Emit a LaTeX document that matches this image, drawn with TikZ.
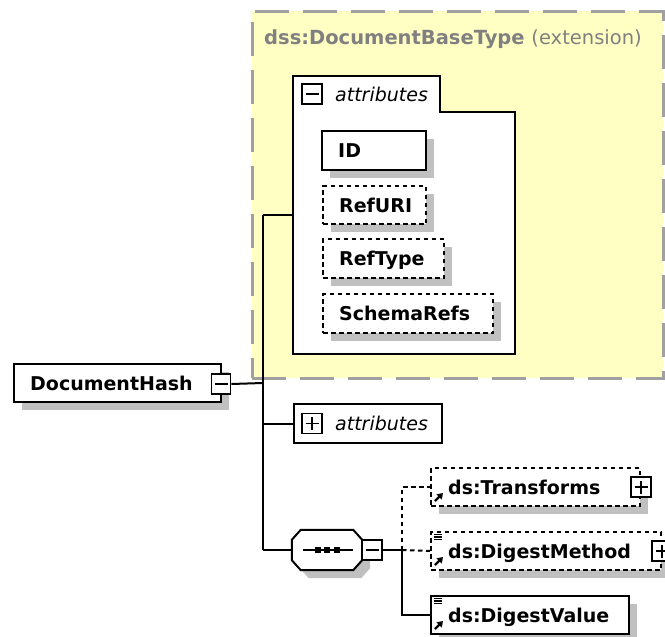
\documentclass[tikz,border=0pt]{standalone}
\usepackage{fontspec}
\setmainfont{DejaVu Sans}
\usetikzlibrary{calc,shadows,arrows.meta}
\definecolor{extfill}{HTML}{FFFFC4}
\definecolor{extline}{HTML}{A0A0A0}
\definecolor{shgray}{HTML}{C0C0C0}
\definecolor{titlegray}{HTML}{808080}
\tikzset{
  conn/.style={line width=2pt},
  optconn/.style={conn, dash pattern=on 4.5pt off 3.5pt},
  shad/.style={drop shadow={shadow xshift=8pt, shadow yshift=-8pt, fill=shgray, opacity=1, draw=none}},
  plainbox/.style={draw, line width=2pt, fill=white, inner sep=0pt, anchor=north west},
  elem/.style={plainbox, shad},
  optelem/.style={elem, dash pattern=on 4.5pt off 3.5pt},
  lbl/.style={font=\fontsize{19}{22}\selectfont\bfseries, inner sep=0pt, anchor=base west},
  ital/.style={font=\fontsize{19}{22}\selectfont\itshape, inner sep=0pt, anchor=base west},
  tog/.style={draw, line width=1.8pt, fill=white, minimum width=20pt, minimum height=20pt, inner sep=0pt},
  sign/.style={line width=1.8pt},
  refarrow/.style={line width=2.4pt, -{Triangle[length=5.5pt,width=7pt]}},
  simple/.style={line width=1.2pt},
}
\begin{document}
\begin{tikzpicture}[x=1pt, y=-1pt]
\useasboundingbox (0,0) rectangle (665,637);
\clip (0,0) rectangle (665,637);

% extension area of the base type
\node[draw=extline, fill=extfill, line width=2.8pt, dash pattern=on 34pt off 14pt,
      inner sep=0pt, anchor=north west, minimum width=411pt, minimum height=367pt] (ext) at (251,10) {};
\node[inner sep=0pt, anchor=base west, text=titlegray, font=\fontsize{19.5}{22}\selectfont] (extt) at (264,45)
  {\bfseries dss:DocumentBaseType \mdseries(extension)};

% attribute group of the base type
\node[inner sep=0pt, anchor=north west, minimum width=222pt, minimum height=278pt] (attrs) at (293,76) {};
\draw[conn, fill=white] (attrs.north west) -- ($(attrs.north west)+(147,0)$) -- ($(attrs.north west)+(147,36)$)
  -- ($(attrs.north east)+(0,36)$) -- (attrs.south east) -- (attrs.south west) -- cycle;
\node[tog] (attrsm) at ($(attrs.north west)+(19,18)$) {};
\draw[sign] ($(attrsm.center)+(-6.5,0)$) -- ($(attrsm.center)+(6.5,0)$);
\node[ital] (attrst) at ($(attrs.north west)+(42,25)$) {attributes};

\node[elem, minimum width=104pt, minimum height=39pt] (id) at (321,130) {};
\node[lbl] (idt) at ($(id.west)+(17,7)$) {ID};
\node[optelem, minimum width=103pt, minimum height=38pt] (ruri) at (322,185) {};
\node[lbl] (rurit) at ($(ruri.west)+(17,7)$) {RefURI};
\node[optelem, minimum width=121pt, minimum height=39pt] (rtype) at (322,238) {};
\node[lbl] (rtypet) at ($(rtype.west)+(17,7)$) {RefType};
\node[optelem, minimum width=170pt, minimum height=39pt] (srefs) at (322,293) {};
\node[lbl] (srefst) at ($(srefs.west)+(17,7)$) {SchemaRefs};

% root element
\node[elem, minimum width=207pt, minimum height=38pt] (dh) at (13,363) {};
\node[lbl] (dht) at ($(dh.west)+(17,7)$) {DocumentHash};
\node[tog, minimum width=19pt] (dhm) at ($(dh.east)+(-1,1)$) {};
\draw[sign] ($(dhm.center)+(-6.5,0)$) -- ($(dhm.center)+(6.5,0)$);
\coordinate (trunk) at (263,383);

% collapsed attributes
\node[plainbox, minimum width=148pt, minimum height=39pt] (attrb) at (293,403) {};
\node[tog] (attrbp) at ($(attrb.west)+(19,0)$) {};
\draw[sign] ($(attrbp.center)+(-6.5,0)$) -- ($(attrbp.center)+(6.5,0)$);
\draw[sign] ($(attrbp.center)+(0,-6.5)$) -- ($(attrbp.center)+(0,6.5)$);
\node[ital] (attrbt) at ($(attrb.west)+(42,7)$) {attributes};

% sequence compositor
\node[inner sep=0pt, minimum width=70pt, minimum height=40pt] (seq) at (327,550) {};
\draw[conn, fill=white, shad] ($(seq.north west)+(0,10)$) -- ($(seq.north west)+(9,0)$)
  -- ($(seq.north east)+(-9,0)$) -- ($(seq.north east)+(0,10)$) -- ($(seq.south east)+(0,-10)$)
  -- ($(seq.south east)+(-9,0)$) -- ($(seq.south west)+(9,0)$) -- ($(seq.south west)+(0,-10)$) -- cycle;
\draw[conn] ($(seq.center)+(-24,0)$) -- ($(seq.center)+(26,0)$);
\foreach \dx in {-9.5,0,9.5}
  \fill ($(seq.center)+(\dx-3,-3)$) rectangle ++(6,6);
\node[tog] (seqm) at ($(seq.east)+(10,0)$) {};
\draw[sign] ($(seqm.center)+(-6.5,0)$) -- ($(seqm.center)+(6.5,0)$);
\coordinate (br) at (402,550);

% children of the sequence
\node[optelem, minimum width=209pt, minimum height=38pt] (tr) at (430,467) {};
\node[lbl] (trt) at ($(tr.west)+(18,7)$) {ds:Transforms};
\draw[refarrow] ($(tr.south west)+(5,-6)$) -- ++(8,-8);
\node[tog] (trp) at (tr.east) {};
\draw[sign] ($(trp.center)+(-6.5,0)$) -- ($(trp.center)+(6.5,0)$);
\draw[sign] ($(trp.center)+(0,-6.5)$) -- ($(trp.center)+(0,6.5)$);

\node[optelem, minimum width=230pt, minimum height=38pt] (dm) at (430,531) {};
\node[lbl] (dmt) at ($(dm.west)+(18,7)$) {ds:DigestMethod};
\foreach \dy in {3.5,6,8.5}
  \draw[simple] ($(dm.north west)+(4,\dy)$) -- ++(8,0);
\draw[refarrow] ($(dm.south west)+(5,-6)$) -- ++(8,-8);
\node[tog] (dmp) at (dm.east) {};
\draw[sign] ($(dmp.center)+(-6.5,0)$) -- ($(dmp.center)+(6.5,0)$);
\draw[sign] ($(dmp.center)+(0,-6.5)$) -- ($(dmp.center)+(0,6.5)$);

\node[elem, minimum width=198pt, minimum height=38pt] (dv) at (430,595) {};
\node[lbl] (dvt) at ($(dv.west)+(18,7)$) {ds:DigestValue};
\foreach \dy in {3.5,6,8.5}
  \draw[simple] ($(dv.north west)+(4,\dy)$) -- ++(8,0);
\draw[refarrow] ($(dv.south west)+(5,-6)$) -- ++(8,-8);

% connectors
\draw[conn] (dhm.east) -- (trunk);
\draw[conn] (trunk |- attrs.west) -- (trunk |- seq.west);
\draw[conn] (trunk |- attrs.west) -- (attrs.west);
\draw[conn] (trunk |- attrb.west) -- (attrb.west);
\draw[conn] (trunk |- seq.west) -- (seq.west);
\draw[conn] (seqm.east) -- (br);
\draw[optconn] (br) |- (tr.west);
\draw[optconn] (br) -- (dm.west);
\draw[conn] (br) |- (dv.west);
\end{tikzpicture}
\end{document}
